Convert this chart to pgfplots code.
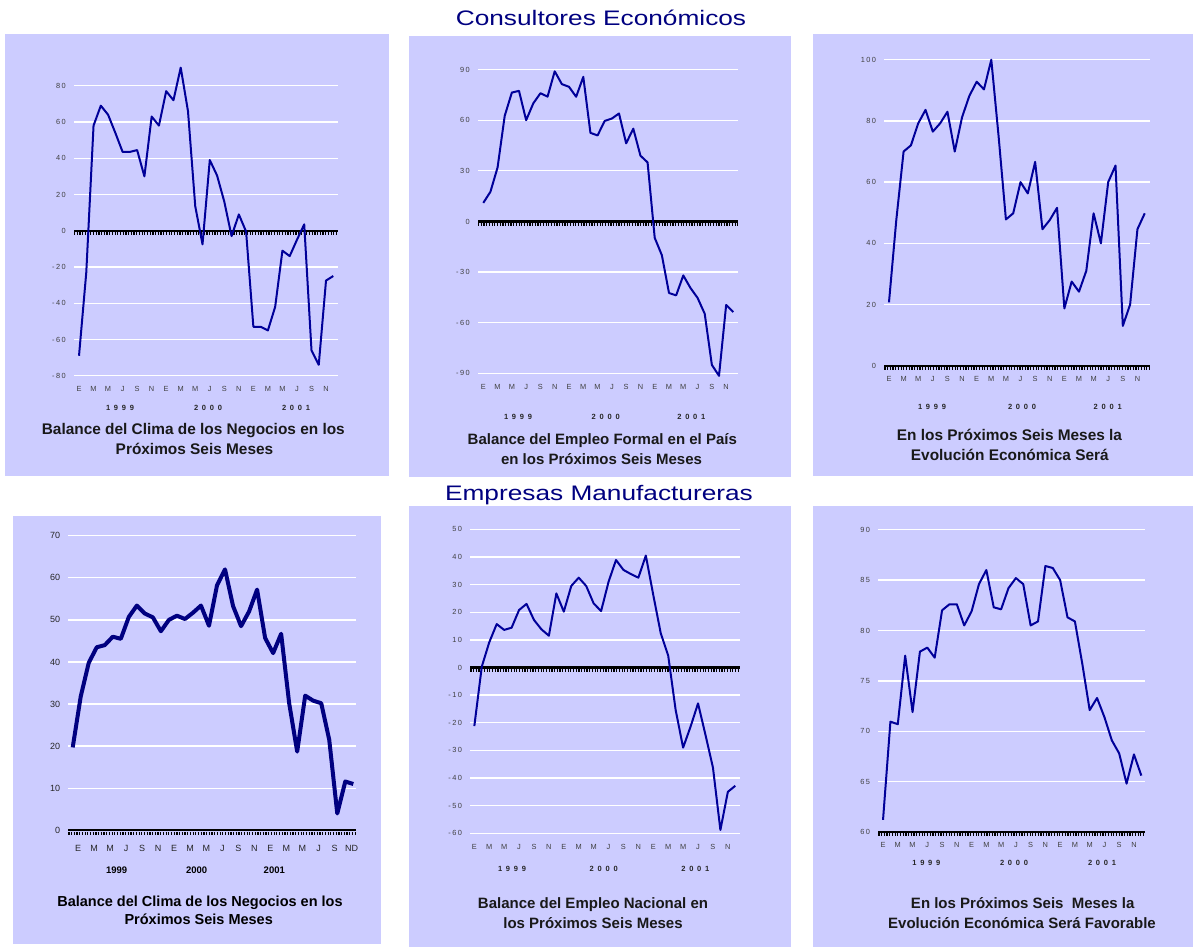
\documentclass[border=0pt]{standalone}
\usepackage{fontspec}
\setmainfont{Liberation Sans}
\newfontfamily\tickfont[LetterSpace=20]{Liberation Sans}
\newfontfamily\yearfont[LetterSpace=50]{Liberation Sans}
\usepackage{graphicx}
\usepackage{pgfplots}
\usepackage{pgfplotstable}
\pgfplotsset{compat=1.18}
\definecolor{panelbg}{RGB}{204,204,255}
\definecolor{dataline}{RGB}{0,0,153}
\definecolor{titleblue}{RGB}{0,0,128}
\definecolor{tickgray}{RGB}{64,64,64}

% x = month index (0 = Jan 1999 ... 35 = Dec 2001)
\pgfplotstableread{
x   p1     p2     p3     p4     p5     p6
0   -69    11     20.7   19.7   -21.2  61.2
1   -23    17.6   47.6   31.8   0.3    70.95
2   58     32     70     39.8   9.1    70.7
3   69     62.6   72     43.5   15.7   77.5
4   64     76.4   79.2   44     13.6   71.9
5   54     77.4   83.6   46     14.4   77.9
6   43.5   60     76.5   45.5   20.8   78.3
7   43.5   70     79.2   50.7   23     77.3
8   44.5   76     83     53.4   17.2   82
9   30     74     70     51.5   13.8   82.6
10  63     89     81.2   50.6   11.5   82.6
11  58     81.4   88.2   47.3   26.8   80.5
12  77     79.8   92.8   50     20.2   81.9
13  72     73.9   90.3   51     29.5   84.6
14  90     85.7   100    50.2   32.5   86
15  66     52.5   75     51.7   29.5   82.3
16  13.5   51     47.8   53.4   23.2   82.1
17  -7.5   59.6   49.8   48.6   20.4   84.2
18  39     61     60     58.2   31     85.2
19  30.5   64     56.3   62     38.9   84.6
20  16     46.3   66.6   53.3   35.3   80.5
21  -3     55     44.6   48.5   33.8   80.9
22  9      39     47.6   52     32.5   86.4
23  -0.5   35     51.6   57.2   40.5   86.2
24  -53    -9.7   18.7   45.7   26.2   85
25  -53    -20    27.5   42.1   12.4   81.3
26  -55    -42.4  24.2   46.7   4.3    80.9
27  -42    -43.8  31     30.2   -15.4  76.7
28  -11    -32    49.8   18.7   -29    72.1
29  -14    -39.4  40     32     -21.4  73.3
30  -5     -45.3  60     30.8   -13    71.4
31  3.5    -54.7  65.4   30.2   -24.4  69.1
32  -66    -85    13     21.5   -36.2  67.8
33  -74    -91.5  20     4      -58.8  64.8
34  -27.5  -49.5  44.6   11.6   -45    67.7
35  -25    -53.7  49.8   11     -42.8  65.6
}\datatable

\pgfplotsset{
  panel/.style={
    scale only axis, clip=false,
    axis line style={draw=none},
    tick style={draw=none},
    major tick length=0pt, minor tick length=0pt,
    ymajorgrids, grid style={white, line width=1.3pt},
    xtick={0,2,...,34},
    xticklabels={E,M,M,J,S,N,E,M,M,J,S,N,E,M,M,J,S,N},
    tick label style={font=\tickfont\fontsize{7.4}{8}\selectfont, text=tickgray},
    /pgf/number format/assume math mode=true,
    yticklabel style={anchor=east, inner sep=0pt, xshift=-8pt},
    xticklabel style={anchor=center, inner sep=0pt},
  },
  dataplot/.style={dataline, line width=2pt, line join=round},
  zeroline/.style={black, line width=2.3pt},
  ruler/.style={black, line width=3pt, dash pattern=on 1.2pt off 1.5pt},
}

\newcommand{\subfont}{\fontsize{15}{18}\selectfont\bfseries\color{black!90}}
\newcommand{\subfontw}{\fontsize{15.4}{18}\selectfont\bfseries\color{black!90}}
\newcommand{\yrfont}{\yearfont\bfseries\fontsize{7.5}{9}\selectfont\color{black!85}}

\begin{document}
\begin{tikzpicture}
% page
\fill[white] (0pt,0pt) rectangle (1193pt,-947pt);
% panel backgrounds
\fill[panelbg] (5pt,-34pt) rectangle (389pt,-476pt);
\fill[panelbg] (409pt,-36pt) rectangle (791pt,-477pt);
\fill[panelbg] (813pt,-34pt) rectangle (1193pt,-476pt);
\fill[panelbg] (13pt,-516pt) rectangle (380.5pt,-944pt);
\fill[panelbg] (409pt,-506pt) rectangle (791pt,-947pt);
\fill[panelbg] (813pt,-506pt) rectangle (1193pt,-947pt);

% main titles
\node[anchor=base, text=titleblue, font=\fontsize{21}{24}\selectfont, inner sep=0pt] at (601pt,-26pt) {\scalebox{1.25}[1]{Consultores Económicos}};
\node[anchor=base, text=titleblue, font=\fontsize{21}{24}\selectfont, inner sep=0pt] at (599pt,-500pt) {\scalebox{1.25}[1]{Empresas Manufactureras}};

% ---------------- Panel 1
\begin{axis}[panel, at={(74pt,-375.7pt)}, anchor=south west,
  width=264pt, height=308.1pt, xmin=-0.69, xmax=35.65, ymin=-80, ymax=90,
  ytick={-80,-60,...,80}, xticklabel style={yshift=-13.3pt}]
\addplot[zeroline] coordinates {(-0.69,0) (35.65,0)};
\addplot[ruler] coordinates {(-0.69,-1.55) (35.65,-1.55)};
\addplot[dataplot] table[x=x, y=p1] {\datatable};
\end{axis}
\node[font=\yrfont, inner sep=0pt] at (120pt,-407.7pt) {1999};
\node[font=\yrfont, inner sep=0pt] at (208pt,-407.7pt) {2000};
\node[font=\yrfont, inner sep=0pt] at (296pt,-407.7pt) {2001};
\node[anchor=base, font=\subfontw, inner sep=0pt] at (193.3pt,-434.4pt) {Balance del Clima de los Negocios en los};
\node[anchor=base, font=\subfontw, inner sep=0pt] at (194.5pt,-454.4pt) {Próximos Seis Meses};

% ---------------- Panel 2
\begin{axis}[panel, at={(478pt,-373.3pt)}, anchor=south west,
  width=260pt, height=303.7pt, xmin=-0.74, xmax=35.66, ymin=-90, ymax=90,
  ytick={-90,-60,...,90}, xticklabel style={yshift=-14pt}]
\addplot[zeroline] coordinates {(-0.74,0) (35.66,0)};
\addplot[ruler] coordinates {(-0.74,-1.66) (35.66,-1.66)};
\addplot[dataplot] table[x=x, y=p2] {\datatable};
\end{axis}
\node[font=\yrfont, inner sep=0pt] at (518pt,-417.3pt) {1999};
\node[font=\yrfont, inner sep=0pt] at (605.7pt,-417.3pt) {2000};
\node[font=\yrfont, inner sep=0pt] at (691.3pt,-417.3pt) {2001};
\node[anchor=base, font=\subfont, inner sep=0pt] at (602.3pt,-444.7pt) {Balance del Empleo Formal en el País};
\node[anchor=base, font=\subfont, inner sep=0pt] at (601.5pt,-464.7pt) {en los Próximos Seis Meses};

% ---------------- Panel 3
\begin{axis}[panel, at={(884.3pt,-365.7pt)}, anchor=south west,
  width=265.4pt, height=306pt, xmin=-0.64, xmax=35.68, ymin=0, ymax=100,
  ytick={0,20,...,100}, xticklabel style={yshift=-13.6pt}]
\addplot[zeroline] coordinates {(-0.64,0) (35.68,0)};
\addplot[ruler] coordinates {(-0.64,-0.92) (35.68,-0.92)};
\addplot[dataplot] table[x=x, y=p3] {\datatable};
\end{axis}
\node[font=\yrfont, inner sep=0pt] at (932pt,-407.3pt) {1999};
\node[font=\yrfont, inner sep=0pt] at (1022pt,-407.3pt) {2000};
\node[font=\yrfont, inner sep=0pt] at (1107.7pt,-407.3pt) {2001};
\node[anchor=base, font=\subfontw, inner sep=0pt] at (1009.5pt,-440.4pt) {En los Próximos Seis Meses la};
\node[anchor=base, font=\subfontw, inner sep=0pt] at (1009.8pt,-460.4pt) {Evolución Económica Será};

% ---------------- Panel 4
\begin{axis}[panel, at={(68.3pt,-830.3pt)}, anchor=south west,
  width=287.4pt, height=294.6pt, xmin=-0.55, xmax=35.3, ymin=0, ymax=70,
  ytick={0,10,...,70},
  xtick={0.66,2.66,4.66,6.66,8.66,10.66,12.66,14.66,16.66,18.66,20.66,22.66,24.66,26.66,28.66,30.66,32.66,34.8},
  xticklabels={E,M,M,J,S,N,E,M,M,J,S,N,E,M,M,J,S,ND},
  tick label style={font=\fontsize{9}{10}\selectfont, text=black!85},
  xticklabel style={yshift=-18.4pt}]
\addplot[zeroline] coordinates {(-0.55,0) (35.3,0)};
\addplot[ruler] coordinates {(-0.55,-0.67) (35.3,-0.67)};
\addplot[color=titleblue, line width=4pt, line join=round] table[x=x, y=p4] {\datatable};
\end{axis}
\node[font=\bfseries\fontsize{9.5}{11}\selectfont, inner sep=0pt] at (116.7pt,-870.7pt) {1999};
\node[font=\bfseries\fontsize{9.5}{11}\selectfont, inner sep=0pt] at (196.7pt,-870.7pt) {2000};
\node[font=\bfseries\fontsize{9.5}{11}\selectfont, inner sep=0pt] at (274.3pt,-870.7pt) {2001};
\node[anchor=base, font=\fontsize{14.5}{17}\selectfont\bfseries, inner sep=0pt] at (200pt,-906pt) {Balance del Clima de los Negocios en los};
\node[anchor=base, font=\fontsize{14.5}{17}\selectfont\bfseries, inner sep=0pt] at (198.7pt,-924.5pt) {Próximos Seis Meses};

% ---------------- Panel 5
\begin{axis}[panel, at={(470.3pt,-833.3pt)}, anchor=south west,
  width=269.4pt, height=304pt, xmin=-0.54, xmax=35.59, ymin=-60, ymax=50,
  ytick={-60,-50,...,50}, xticklabel style={yshift=-14pt}]
\addplot[zeroline] coordinates {(-0.54,0) (35.59,0)};
\addplot[ruler] coordinates {(-0.54,-1.01) (35.59,-1.01)};
\addplot[dataplot] table[x=x, y=p5] {\datatable};
\end{axis}
\node[font=\yrfont, inner sep=0pt] at (512pt,-869.3pt) {1999};
\node[font=\yrfont, inner sep=0pt] at (603.7pt,-869.3pt) {2000};
\node[font=\yrfont, inner sep=0pt] at (695.3pt,-869.3pt) {2001};
\node[anchor=base, font=\subfont, inner sep=0pt] at (593pt,-908pt) {Balance del Empleo Nacional en};
\node[anchor=base, font=\subfont, inner sep=0pt] at (593pt,-928pt) {los Próximos Seis Meses};

% ---------------- Panel 6
\begin{axis}[panel, at={(878.3pt,-832pt)}, anchor=south west,
  width=267pt, height=302.3pt, xmin=-0.64, xmax=35.54, ymin=60, ymax=90,
  ytick={60,65,...,90}, xticklabel style={yshift=-13pt}]
\addplot[zeroline] coordinates {(-0.64,60) (35.54,60)};
\addplot[ruler] coordinates {(-0.64,59.72) (35.54,59.72)};
\addplot[dataplot] table[x=x, y=p6] {\datatable};
\end{axis}
\node[font=\yrfont, inner sep=0pt] at (926.3pt,-863.3pt) {1999};
\node[font=\yrfont, inner sep=0pt] at (1014pt,-863.3pt) {2000};
\node[font=\yrfont, inner sep=0pt] at (1102pt,-863.3pt) {2001};
\node[anchor=base, font=\subfont, inner sep=0pt] at (1022.7pt,-908pt) {En los Próximos Seis\ \ Meses la};
\node[anchor=base, font=\subfont, inner sep=0pt] at (1022pt,-928pt) {Evolución Económica Será Favorable};
\end{tikzpicture}
\end{document}
